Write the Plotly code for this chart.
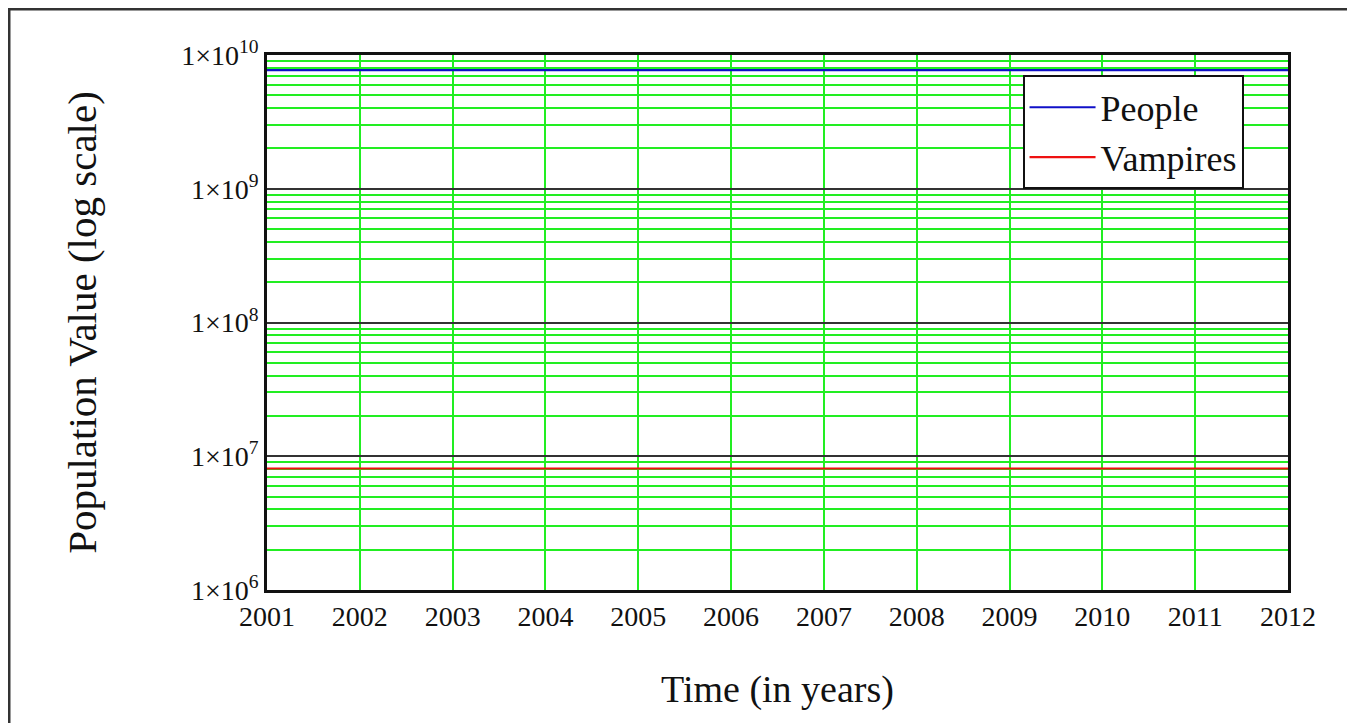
import plotly.graph_objects as go

years = [2001, 2002, 2003, 2004, 2005, 2006, 2007, 2008, 2009, 2010, 2011, 2012]
people = [7.7e9, 7.7e9, 7.7e9, 7.7e9, 7.7e9, 7.7e9, 7.7e9, 7.7e9, 7.7e9, 7.7e9, 7.7e9, 7.7e9]
vampires = [8.1e6, 8.1e6, 8.1e6, 8.1e6, 8.1e6, 8.1e6, 8.1e6, 8.1e6, 8.1e6, 8.1e6, 8.1e6, 8.1e6]

y_major = [1e6, 1e7, 1e8, 1e9, 1e10]
y_major_text = ["1×10<sup>6</sup>", "1×10<sup>7</sup>", "1×10<sup>8</sup>",
                "1×10<sup>9</sup>", "1×10<sup>10</sup>"]
y_minor = [m * d for d in [1e6, 1e7, 1e8, 1e9] for m in [2, 3, 4, 5, 6, 7, 8, 9]]

FONT = "Liberation Serif, Times New Roman, serif"
GREEN = "#22ee22"

fig = go.Figure()
fig.add_trace(go.Scatter(x=years, y=people, mode="lines", name="People",
                         line=dict(color="#1010c8", width=2.2)))
fig.add_trace(go.Scatter(x=years, y=vampires, mode="lines", name="Vampires",
                         line=dict(color="#ee1111", width=2.2)))

fig.update_layout(
    width=1355, height=723,
    margin=dict(l=259, r=75, t=47, b=141, autoexpand=False),
    paper_bgcolor="white", plot_bgcolor="white",
    font=dict(family=FONT, color="#111111"),
    showlegend=True,
    legend=dict(x=0.740, y=0.962, xanchor="left", yanchor="top",
                bordercolor="#111111", borderwidth=2, bgcolor="white",
                font=dict(family=FONT, size=36), itemwidth=66,
                tracegroupgap=0),
    shapes=[dict(type="rect", xref="paper", yref="paper",
                 x0=-0.2527, x1=1.0607, y0=-0.3, y1=1.086,
                 line=dict(color="#333333", width=3), layer="above")],
)

fig.update_xaxes(
    range=[2001, 2012], tickmode="array", tickvals=years,
    ticktext=[str(y) for y in years],
    tickfont=dict(family=FONT, size=28, color="#111111"),
    showgrid=True, gridcolor=GREEN, gridwidth=1.6,
    showline=True, linecolor="#111111", linewidth=2.5, mirror=True,
    ticks="", zeroline=False,
    title=dict(text="Time (in years)", font=dict(family=FONT, size=38, color="#111111"),
               standoff=45),
    automargin=False,
)
fig.update_yaxes(
    type="log", range=[6, 10], tickmode="array", tickvals=y_major,
    ticktext=y_major_text,
    tickfont=dict(family=FONT, size=28, color="#111111"),
    showgrid=True, gridcolor="#333333", gridwidth=1.6,
    minor=dict(tickmode="array", tickvals=y_minor, showgrid=True,
               gridcolor=GREEN, gridwidth=1.6, ticks=""),
    showline=True, linecolor="#111111", linewidth=2.5, mirror=True,
    ticks="", zeroline=False,
    title=dict(text="Population Value (log scale)",
               font=dict(family=FONT, size=41, color="#111111"), standoff=72),
    automargin=False,
)

fig.write_html("out.html")
